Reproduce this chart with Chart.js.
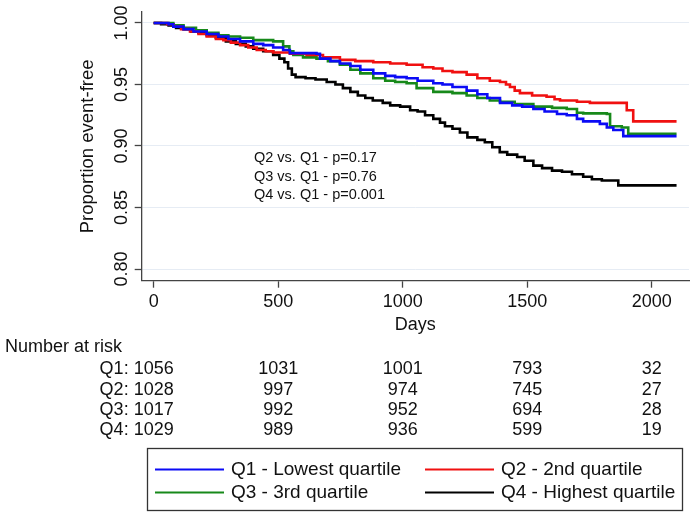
<!DOCTYPE html>
<html>
<head>
<meta charset="utf-8">
<script src="https://cdn.jsdelivr.net/npm/chart.js@4.4.1/dist/chart.umd.min.js"></script>
<style>
  html, body { margin: 0; padding: 0; background: #fff; }
  #kmChart { display: block; }
</style>
</head>
<body>
<canvas id="kmChart" width="696" height="518"></canvas>
<script>
var FONT = '"Liberation Sans", Arial, Helvetica, sans-serif';
var TEXT = '#111111';
var AXIS = '#444444';

// axis ticks
var xTicks = [0, 500, 1000, 1500, 2000];
var yTicks = [0.80, 0.85, 0.90, 0.95, 1.00];

// series
var seriesNames = ['Q1 - Lowest quartile', 'Q2 - 2nd quartile', 'Q3 - 3rd quartile', 'Q4 - Highest quartile'];
var seriesColors = ['#0b0bf5', '#f01010', '#17891a', '#000000'];

var q1Days = [0, 60, 79, 120, 160, 213, 260, 300, 347, 400, 440, 480, 520, 547, 654, 668, 710, 748, 790, 830, 882, 930, 970, 1016, 1060, 1123, 1160, 1200, 1257, 1300, 1340, 1391, 1440, 1480, 1525, 1570, 1620, 1659, 1700, 1725, 1792, 1820, 1846, 1886, 2100];
var q1Surv = [1.000, 0.999, 0.997, 0.995, 0.993, 0.991, 0.989, 0.987, 0.985, 0.983, 0.982, 0.980, 0.978, 0.9755, 0.975, 0.971, 0.969, 0.967, 0.965, 0.962, 0.959, 0.957, 0.956, 0.955, 0.953, 0.951, 0.950, 0.948, 0.945, 0.942, 0.939, 0.935, 0.933, 0.932, 0.930, 0.928, 0.926, 0.925, 0.922, 0.920, 0.918, 0.915, 0.913, 0.908, 0.908];

var q2Days = [0, 55, 80, 110, 146, 180, 213, 250, 280, 310, 347, 380, 414, 450, 480, 547, 614, 680, 748, 810, 882, 950, 1016, 1080, 1123, 1160, 1200, 1257, 1300, 1350, 1391, 1415, 1431, 1450, 1471, 1520, 1578, 1610, 1632, 1700, 1752, 1900, 1926, 2100];
var q2Surv = [1.000, 0.999, 0.997, 0.995, 0.993, 0.991, 0.989, 0.987, 0.986, 0.984, 0.982, 0.980, 0.978, 0.977, 0.976, 0.975, 0.974, 0.972, 0.970, 0.969, 0.968, 0.967, 0.966, 0.964, 0.963, 0.961, 0.960, 0.958, 0.955, 0.953, 0.952, 0.950, 0.948, 0.945, 0.943, 0.941, 0.940, 0.938, 0.937, 0.936, 0.935, 0.929, 0.920, 0.920];

var q3Days = [0, 79, 120, 170, 213, 260, 300, 347, 400, 480, 520, 545, 561, 600, 654, 700, 748, 790, 830, 882, 930, 970, 1016, 1056, 1123, 1200, 1257, 1300, 1350, 1391, 1450, 1525, 1600, 1659, 1700, 1725, 1820, 1833, 1880, 1906, 2100];
var q3Surv = [1.000, 0.998, 0.996, 0.994, 0.992, 0.990, 0.989, 0.988, 0.986, 0.985, 0.981, 0.977, 0.974, 0.972, 0.971, 0.969, 0.966, 0.962, 0.959, 0.955, 0.953, 0.952, 0.951, 0.947, 0.944, 0.943, 0.941, 0.939, 0.937, 0.936, 0.934, 0.932, 0.931, 0.930, 0.927, 0.9265, 0.926, 0.916, 0.915, 0.910, 0.910];

var q4Days = [0, 30, 60, 90, 120, 150, 180, 213, 250, 290, 330, 370, 400, 440, 480, 505, 525, 540, 555, 570, 610, 650, 695, 730, 760, 790, 820, 850, 880, 920, 950, 990, 1030, 1060, 1090, 1123, 1150, 1170, 1200, 1230, 1260, 1300, 1330, 1360, 1390, 1420, 1460, 1490, 1525, 1560, 1600, 1640, 1680, 1725, 1760, 1800, 1866, 2100];
var q4Surv = [1.000, 0.999, 0.998, 0.996, 0.995, 0.993, 0.992, 0.990, 0.988, 0.985, 0.983, 0.981, 0.979, 0.977, 0.974, 0.971, 0.968, 0.963, 0.958, 0.956, 0.955, 0.954, 0.952, 0.950, 0.947, 0.944, 0.941, 0.939, 0.937, 0.935, 0.933, 0.932, 0.929, 0.928, 0.925, 0.922, 0.919, 0.916, 0.914, 0.911, 0.907, 0.905, 0.903, 0.899, 0.895, 0.893, 0.891, 0.888, 0.884, 0.882, 0.880, 0.879, 0.877, 0.875, 0.873, 0.872, 0.868, 0.868];

// number at risk, one value per x tick
var riskLabels = ['Q1', 'Q2', 'Q3', 'Q4'];
var riskQ1 = [1056, 1031, 1001, 793, 32];
var riskQ2 = [1028, 997, 974, 745, 27];
var riskQ3 = [1017, 992, 952, 694, 28];
var riskQ4 = [1029, 989, 936, 599, 19];

var pTexts = ['Q2 vs. Q1 - p=0.17', 'Q3 vs. Q1 - p=0.76', 'Q4 vs. Q1 - p=0.001'];

function toPoints(days, surv) {
    return days.map(function (d, i) { return { x: d, y: surv[i] }; });
}

var allDays = [q1Days, q2Days, q3Days, q4Days];
var allSurv = [q1Surv, q2Surv, q3Surv, q4Surv];
var allRisk = [riskQ1, riskQ2, riskQ3, riskQ4];

var datasets = seriesNames.map(function (name, i) {
    return {
        label: name,
        data: toPoints(allDays[i], allSurv[i]),
        borderColor: seriesColors[i],
        backgroundColor: seriesColors[i],
        borderWidth: 2.6,
        pointRadius: 0,
        stepped: 'before',
        fill: false
    };
});

var extras = {
    id: 'kmExtras',
    afterDraw: function (chart) {
        var ctx = chart.ctx;
        var xs = chart.scales.x;
        var ys = chart.scales.y;
        ctx.save();
        ctx.fillStyle = TEXT;

        // vertical y tick labels
        ctx.font = '18px ' + FONT;
        ctx.textAlign = 'center';
        ctx.textBaseline = 'middle';
        ys.ticks.forEach(function (t) {
            ctx.save();
            ctx.translate(ys.right - 20, ys.getPixelForValue(t.value));
            ctx.rotate(-Math.PI / 2);
            ctx.fillText(t.value.toFixed(2), 0, 0);
            ctx.restore();
        });

        // p-values
        ctx.font = '14.5px ' + FONT;
        ctx.textAlign = 'left';
        var px = xs.getPixelForValue(403);
        var py = ys.getPixelForValue(0.8899);
        pTexts.forEach(function (t, i) {
            ctx.fillText(t, px, py + i * 18.3);
        });

        // number at risk table
        ctx.font = '18px ' + FONT;
        ctx.textAlign = 'left';
        ctx.fillText('Number at risk', 5, 347);
        allRisk.forEach(function (row, r) {
            var ry = 369.5 + r * 20.2;
            row.forEach(function (n, c) {
                var cx = xs.getPixelForValue(xTicks[c]);
                if (c === 0) {
                    ctx.textAlign = 'right';
                    ctx.fillText(riskLabels[r] + ': ' + n, cx + ctx.measureText(String(n)).width / 2, ry);
                } else {
                    ctx.textAlign = 'center';
                    ctx.fillText(String(n), cx, ry);
                }
            });
        });

        // legend box
        ctx.strokeStyle = '#333';
        ctx.lineWidth = 1.3;
        ctx.strokeRect(147.5, 448.5, 535, 62);
        ctx.font = '19px ' + FONT;
        ctx.textAlign = 'left';
        chart.data.datasets.forEach(function (ds, i) {
            var lx = i % 2 === 0 ? 155 : 425;
            var ly = i < 2 ? 469.5 : 492.5;
            ctx.strokeStyle = ds.borderColor;
            ctx.lineWidth = 2;
            ctx.beginPath();
            ctx.moveTo(lx, ly);
            ctx.lineTo(lx + 69, ly);
            ctx.stroke();
            ctx.fillText(ds.label, lx + 76, ly);
        });
        ctx.restore();
    }
};

var ctx = document.getElementById('kmChart').getContext('2d');
var kmChart = new Chart(ctx, {
    type: 'line',
    data: { datasets: datasets },
    plugins: [extras],
    options: {
        responsive: false,
        animation: false,
        devicePixelRatio: 1,
        layout: { padding: { left: 0, right: 7, top: 12, bottom: 182.6 } },
        plugins: {
            legend: { display: false },
            tooltip: { enabled: false }
        },
        scales: {
            x: {
                type: 'linear',
                min: -48,
                max: 2150,
                afterBuildTicks: function (s) { s.ticks = xTicks.map(function (v) { return { value: v }; }); },
                afterFit: function (s) { s.height = 54.7; },
                grid: { drawOnChartArea: false, drawTicks: true, tickLength: 7, tickColor: AXIS, tickWidth: 1.3 },
                border: { display: true, color: AXIS, width: 1.3 },
                ticks: {
                    color: TEXT, font: { family: FONT, size: 18 }, padding: 4, maxRotation: 0, autoSkip: false,
                    callback: function (v) { return String(v); }
                },
                title: { display: true, text: 'Days', color: TEXT, font: { family: FONT, size: 18 }, padding: { top: 0, bottom: 0 } }
            },
            y: {
                type: 'linear',
                min: 0.7905,
                max: 1.0089,
                afterBuildTicks: function (s) { s.ticks = yTicks.map(function (v) { return { value: v }; }); },
                afterFit: function (s) { s.width = 141.7; },
                grid: { color: '#e6ecf4', lineWidth: 1, drawTicks: true, tickLength: 7, tickColor: AXIS, tickWidth: 1.3 },
                border: { display: true, color: AXIS, width: 1.3 },
                ticks: { display: false },
                title: { display: true, text: 'Proportion event-free', color: TEXT, font: { family: FONT, size: 18.5 }, padding: { top: 77, bottom: 0 } }
            }
        }
    }
});
</script>
</body>
</html>
